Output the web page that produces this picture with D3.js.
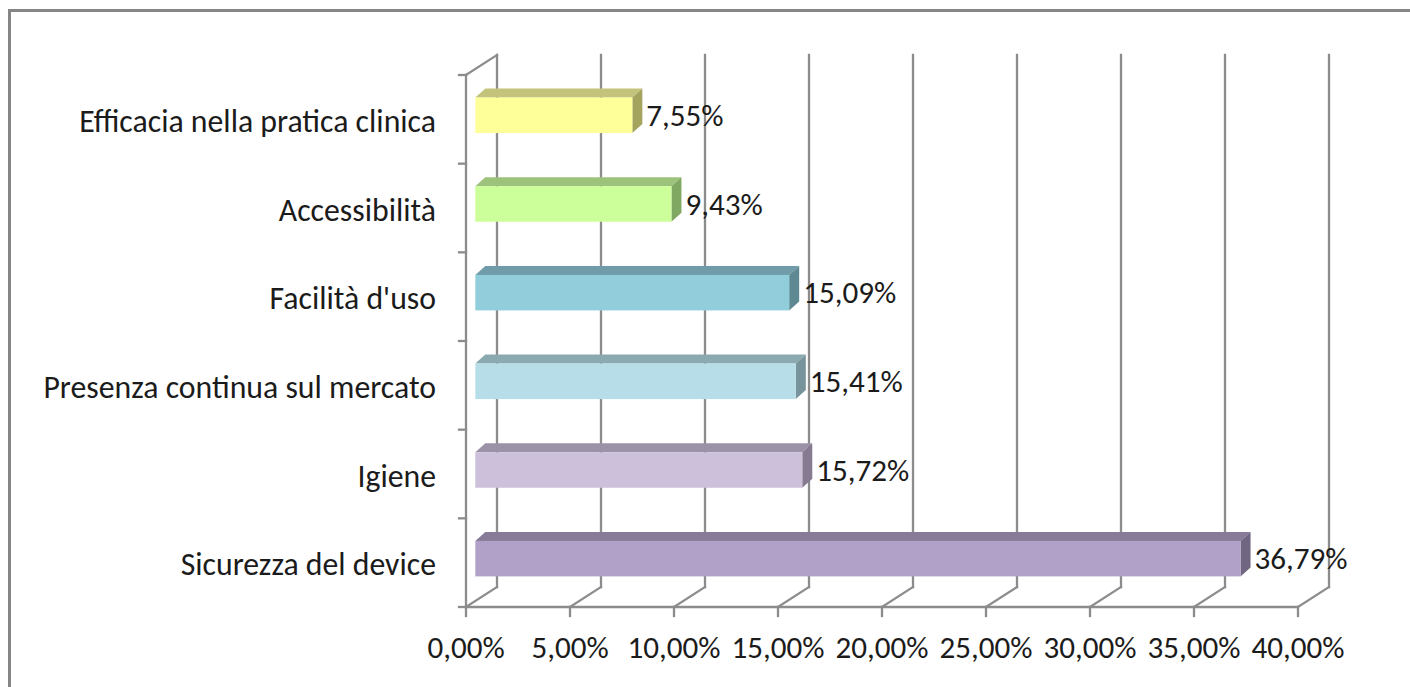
<!DOCTYPE html>
<html>
<head>
<meta charset="utf-8">
<script src="https://cdn.jsdelivr.net/npm/d3@7"></script>
<style>
  html, body { margin: 0; padding: 0; background: #fff; overflow: hidden; }
  svg { display: block; }
</style>
</head>
<body>
<svg id="chart" width="1410" height="687"></svg>
<script>
// Survey answers: share of respondents per criterion (percent)
const categories = [
  "Efficacia nella pratica clinica",
  "Accessibilità",
  "Facilità d'uso",
  "Presenza continua sul mercato",
  "Igiene",
  "Sicurezza del device"
];
const values = [7.55, 9.43, 15.09, 15.41, 15.72, 36.79];
const tickValues = [0, 5, 10, 15, 20, 25, 30, 35, 40];

// Face colours of each 3D bar (front, top, side)
const frontColors = ["#FFFF99", "#CCFF99", "#92CDDC", "#B7DEE8", "#CCC0DA", "#B1A0C7"];
const topColors   = ["#C3C37B", "#9DC27B", "#6F9CA8", "#8BA9B1", "#9C92A7", "#877B97"];
const sideColors  = ["#A4A45F", "#80A862", "#5E8892", "#77949C", "#867A90", "#706681"];

const svg = d3.select("#chart");
const W = 1410, H = 687;

// Italian number format: 7,55%
const itLocale = d3.formatLocale({ decimal: ",", thousands: ".", grouping: [3], currency: ["€", ""] });
const fmtPct = itLocale.format(".2%");

// Front plane of the plot cube and its depth vector
const plot = { left: 466, right: 1298, top: 75, bottom: 607 };
const depth = { dx: 31, dy: -20 };
// Bars sit a little behind the front plane and have their own depth
const barFront = 0.3;
const barShiftY = 2;
const barDepth = { dx: 10, dy: -9 };

const x = d3.scaleLinear().domain([0, 40]).range([plot.left, plot.right]);
const y = d3.scaleBand().domain(categories).range([plot.top, plot.bottom])
  .paddingInner(0.6).paddingOuter(0.3);

const fontFamily = "Carlito, Lato, 'Open Sans', sans-serif";
const textColor = "#1b1b1b";
const gridColor = "#8c8c8c";

// Size the fonts from the width of a reference string
function fitSize(str, targetWidth, maxSize) {
  const probe = svg.append("text").attr("font-family", fontFamily).attr("font-size", 100).text(str);
  const w = probe.node().getComputedTextLength();
  probe.remove();
  return Math.min(maxSize, 100 * targetWidth / w);
}
const fontSize = fitSize(categories[0], 357, 32);
const numSize = fitSize("40,00%", 93, 32);

// Outer chart frame
svg.append("rect")
  .attr("x", 9.5).attr("y", 10.5)
  .attr("width", W + 20).attr("height", H + 20)
  .attr("fill", "#fff").attr("stroke", "#868686").attr("stroke-width", 3);

const g = svg.append("g");
const line = (x1, y1, x2, y2, w) => g.append("line")
  .attr("x1", x1).attr("y1", y1).attr("x2", x2).attr("y2", y2)
  .attr("stroke", gridColor).attr("stroke-width", w || 2.3).attr("stroke-linecap", "square");

// Back wall gridlines, floor diagonals and tick marks
tickValues.forEach(t => {
  const fx = x(t);
  const bx = fx + depth.dx;
  line(bx, plot.top + depth.dy, bx, plot.bottom + depth.dy);
  line(fx, plot.bottom, bx, plot.bottom + depth.dy);
  line(fx, plot.bottom, fx, plot.bottom + 9);
});

// Front floor edge
line(plot.left, plot.bottom, plot.right, plot.bottom);

// Left wall: category axis, top edge and tick marks
line(plot.left, plot.top, plot.left, plot.bottom);
line(plot.left, plot.top, plot.left + depth.dx, plot.top + depth.dy);
d3.range(categories.length + 1).forEach(i => {
  const yy = plot.top + i * y.step();
  line(plot.left - 7, yy, plot.left, yy);
});

// 3D bars with value labels
const bars = g.selectAll("g.bar").data(categories).join("g").attr("class", "bar");
bars.each(function(c, i) {
  const sel = d3.select(this);
  const x0 = x(0) + depth.dx * barFront;
  const x1 = x0 + (x(values[i]) - x(0));
  const yt = y(c) + depth.dy * barFront + barShiftY;
  const h = y.bandwidth();
  const dx = barDepth.dx, dy = barDepth.dy;
  sel.append("polygon")
    .attr("points", [[x0, yt], [x0 + dx, yt + dy], [x1 + dx, yt + dy], [x1, yt]].join(" "))
    .attr("fill", topColors[i]);
  sel.append("polygon")
    .attr("points", [[x1, yt], [x1 + dx, yt + dy], [x1 + dx, yt + h + dy], [x1, yt + h]].join(" "))
    .attr("fill", sideColors[i]);
  sel.append("rect")
    .attr("x", x0).attr("y", yt).attr("width", x1 - x0).attr("height", h)
    .attr("fill", frontColors[i]);
  sel.append("text")
    .attr("x", x1 + dx + 4)
    .attr("y", yt + h / 2 + 10.5)
    .attr("font-family", fontFamily).attr("font-size", numSize)
    .attr("fill", textColor)
    .text(fmtPct(values[i] / 100));
});

// Category labels
g.selectAll("text.cat").data(categories).join("text")
  .attr("class", "cat")
  .attr("x", 436)
  .attr("y", c => y(c) + y.bandwidth() / 2 + 12.5)
  .attr("text-anchor", "end")
  .attr("font-family", fontFamily).attr("font-size", fontSize)
  .attr("fill", textColor)
  .text(c => c);

// Value axis tick labels
g.selectAll("text.tick").data(tickValues).join("text")
  .attr("class", "tick")
  .attr("x", t => x(t))
  .attr("y", 658)
  .attr("text-anchor", "middle")
  .attr("font-family", fontFamily).attr("font-size", numSize)
  .attr("fill", textColor)
  .text(t => fmtPct(t / 100));
</script>
</body>
</html>
